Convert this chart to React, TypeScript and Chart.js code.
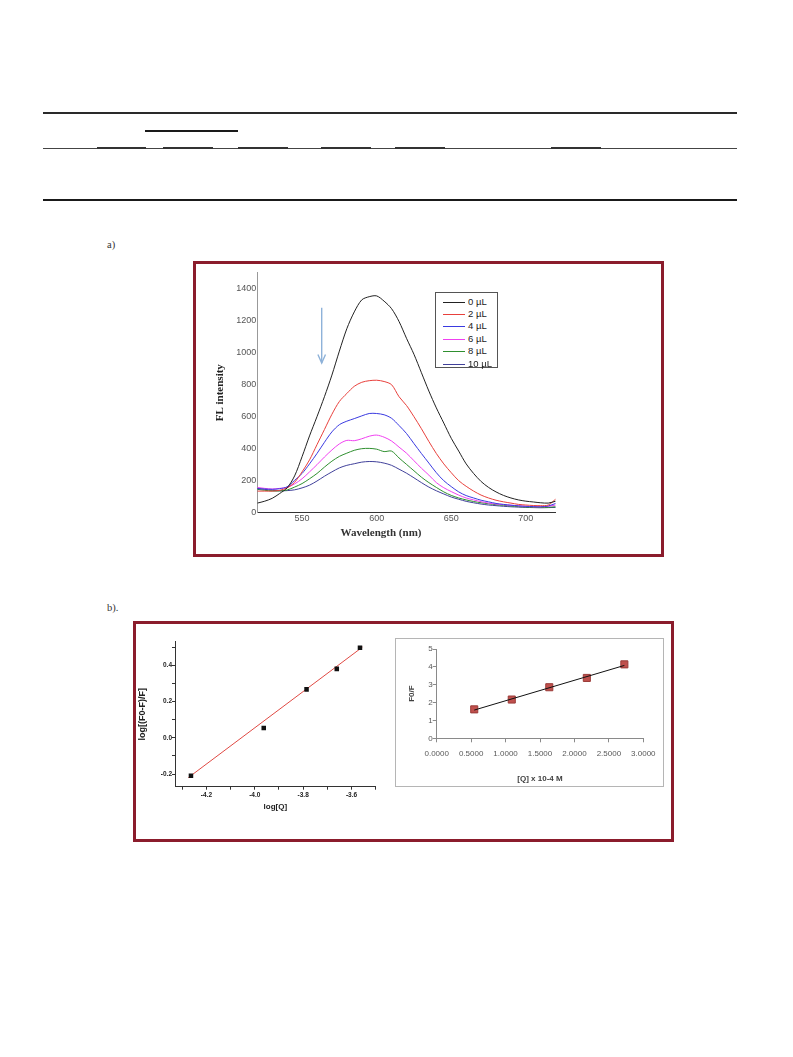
import React, { useEffect, useRef } from "react";
import { Chart, registerables } from "chart.js";
Chart.register(...registerables);

// ---------- (a) fluorescence spectra ----------
const wavelengths = [
  520, 525, 530, 535, 540, 545, 550, 555, 560, 565, 570, 575, 580, 585, 590, 595, 600,
  605, 610, 615, 620, 625, 630, 635, 640, 645, 650, 655, 660, 665, 670, 675, 680, 685,
  690, 695, 700, 705, 710, 715, 720,
];
const fl0uL = [
  60, 72, 90, 120, 155, 230, 350, 480, 600, 725, 860, 1010, 1150, 1255, 1330, 1350, 1355,
  1322, 1275, 1195, 1090, 990, 875, 760, 655, 560, 465, 385, 305, 245, 195, 158, 130, 108,
  92, 80, 72, 67, 62, 60, 72,
];
const fl2uL = [
  135, 135, 135, 140, 155, 190, 255, 330, 425, 520, 615, 695, 745, 790, 815, 825, 828,
  820, 800, 725, 670, 600, 525, 445, 370, 305, 250, 200, 165, 135, 110, 92, 78, 68,
  60, 52, 48, 45, 44, 48, 85,
];
const fl4uL = [
  150, 148, 146, 150, 162, 202, 245, 305, 370, 440, 505, 550, 572, 588, 605, 620, 620,
  612, 590, 545, 495, 432, 370, 310, 250, 200, 163, 130, 107, 92, 78, 68, 58, 52,
  47, 43, 40, 38, 37, 42, 58,
];
const fl6uL = [
  158, 152, 148, 152, 158, 180, 212, 255, 300, 348, 392, 430, 452, 450, 462, 478, 485,
  472, 448, 410, 372, 325, 278, 235, 188, 156, 132, 110, 92, 80, 69, 60, 54, 50,
  46, 43, 40, 37, 37, 40, 48,
];
const fl8uL = [
  146, 140, 136, 136, 142, 160, 182, 212, 245, 285, 322, 352, 372, 390, 400, 402, 397,
  382, 385, 342, 302, 262, 222, 188, 158, 130, 108, 92, 80, 70, 62, 56, 50, 46,
  42, 38, 36, 34, 33, 34, 37,
];
const fl10uL = [
  152, 146, 140, 137, 138, 143, 155, 172, 198, 228, 255, 280, 296, 306, 316, 320, 318,
  310, 296, 272, 247, 218, 188, 160, 137, 117, 98, 84, 71, 62, 54, 48, 44, 40,
  37, 35, 33, 32, 31, 32, 33,
];
const spectraLabels = ["0 µL", "2 µL", "4 µL", "6 µL", "8 µL", "10 µL"];
const spectraColors = ["#222222", "#e8403c", "#3a3ae0", "#f040f0", "#2f8f2f", "#40409a"];
const spectraXTicks = [550, 600, 650, 700];
const spectraYTicks = [0, 200, 400, 600, 800, 1000, 1200, 1400];

// ---------- (b) left: double-log plot ----------
const logQ = [-4.264, -3.963, -3.786, -3.661, -3.565];
const logRatio = [-0.21, 0.054, 0.267, 0.38, 0.497];
const logFitX = [-4.275, -3.555];
const logFitY = [-0.22, 0.5];
const logXTicks = [-4.3, -4.2, -4.1, -4.0, -3.9, -3.8, -3.7, -3.6, -3.5];
const logXLabels = ["", "-4.2", "", "-4.0", "", "-3.8", "", "-3.6", ""];
const logYTicks = [-0.2, -0.1, 0.0, 0.1, 0.2, 0.3, 0.4, 0.5];
const logYLabels = ["-0.2", "", "0.0", "", "0.2", "", "0.4", ""];

// ---------- (b) right: Stern-Volmer plot ----------
const concQ = [0.545, 1.09, 1.635, 2.18, 2.725];
const f0OverF = [1.62, 2.17, 2.86, 3.38, 4.14];
const svFitX = [0.545, 2.725];
const svFitY = [1.58, 4.08];
const svXTicks = [0, 0.5, 1.0, 1.5, 2.0, 2.5, 3.0];
const svYTicks = [0, 1, 2, 3, 4, 5];

const spectraSeries = [fl0uL, fl2uL, fl4uL, fl6uL, fl8uL, fl10uL];

function useChart(ref: any, make: () => any) {
  useEffect(() => {
    const chart = new Chart(ref.current, make());
    return () => chart.destroy();
  }, []);
}

const setTicks = (vals: number[]) => (s: any) => {
  s.ticks = vals.map((v) => ({ value: v }));
};
const setWidth = (w: number) => (s: any) => {
  s.width = w;
};
const setHeight = (h: number) => (s: any) => {
  s.height = h;
};
const labelFrom = (vals: number[], labels: string[]) => (value: number) => {
  const i = vals.findIndex((v) => Math.abs(v - value) < 1e-6);
  return i >= 0 ? labels[i] : "";
};

function SpectraChart() {
  const ref = useRef<HTMLCanvasElement>(null);
  useChart(ref, () => ({
    type: "line",
    data: {
      datasets: spectraSeries.map((s, i) => ({
        label: spectraLabels[i],
        data: wavelengths.map((w, j) => ({ x: w, y: s[j] })),
        borderColor: spectraColors[i],
        borderWidth: 1,
        pointRadius: 0,
        tension: 0.3,
        fill: false,
      })),
    },
    options: {
      responsive: false,
      animation: false,
      layout: { padding: { left: 0, top: 8.7, right: 106.3, bottom: 0 } },
      plugins: { legend: { display: false }, tooltip: { enabled: false } },
      scales: {
        x: {
          type: "linear",
          min: 520,
          max: 720,
          afterBuildTicks: setTicks(spectraXTicks),
          afterFit: setHeight(42.3),
          grid: { display: false, drawTicks: false },
          border: { display: true, color: "#333", width: 1 },
          ticks: {
            callback: (v: number) => String(v),
            font: { family: "Liberation Sans", size: 9 },
            color: "#555",
            padding: 0,
            autoSkip: false,
            maxRotation: 0,
          },
        },
        y: {
          type: "linear",
          min: 0,
          max: 1500,
          afterBuildTicks: setTicks(spectraYTicks),
          afterFit: setWidth(61.3),
          grid: { display: false, drawTicks: false },
          border: { display: true, color: "#999", width: 1 },
          ticks: {
            callback: (v: number) => String(v),
            font: { family: "Liberation Sans", size: 9 },
            color: "#555",
            padding: 1,
            autoSkip: false,
          },
          title: {
            display: true,
            text: "FL intensity",
            color: "#222",
            font: { family: "Liberation Serif", size: 11, weight: "bold" },
            padding: { top: 17.4, bottom: 0 },
          },
        },
      },
    },
  }));
  return (
    <canvas
      ref={ref}
      width={466}
      height={291}
      style={{ position: "absolute", left: 196, top: 264, width: 466, height: 291 }}
    />
  );
}

function LogChart() {
  const ref = useRef<HTMLCanvasElement>(null);
  useChart(ref, () => ({
    type: "scatter",
    data: {
      datasets: [
        {
          label: "data",
          data: logQ.map((x, i) => ({ x, y: logRatio[i] })),
          pointStyle: "rect",
          pointRadius: 3.2,
          backgroundColor: "#111",
          borderColor: "#111",
          borderWidth: 0,
        },
        {
          type: "line",
          label: "fit",
          data: logFitX.map((x, i) => ({ x, y: logFitY[i] })),
          borderColor: "#e04a44",
          borderWidth: 1,
          pointRadius: 0,
          fill: false,
        },
      ],
    },
    options: {
      responsive: false,
      animation: false,
      layout: { padding: { left: 0, top: 16.7, right: 11.3, bottom: 0 } },
      plugins: { legend: { display: false }, tooltip: { enabled: false } },
      scales: {
        x: {
          type: "linear",
          min: -4.33,
          max: -3.5,
          afterBuildTicks: setTicks(logXTicks),
          afterFit: setHeight(28.3),
          grid: { display: true, drawOnChartArea: false, drawTicks: true, tickLength: 3, color: "#333" },
          border: { display: true, color: "#333", width: 1 },
          ticks: {
            callback: labelFrom(logXTicks, logXLabels),
            font: { family: "Liberation Sans", size: 6.5, weight: "bold" },
            color: "#222",
            padding: 2,
            autoSkip: false,
            maxRotation: 0,
          },
          title: {
            display: true,
            text: "log[Q]",
            color: "#222",
            font: { family: "Liberation Sans", size: 8, weight: "bold" },
            padding: { top: 0, bottom: 3.5 },
          },
        },
        y: {
          type: "linear",
          min: -0.27,
          max: 0.53,
          afterBuildTicks: setTicks(logYTicks),
          afterFit: setWidth(38),
          grid: { display: true, drawOnChartArea: false, drawTicks: true, tickLength: 3, color: "#333" },
          border: { display: true, color: "#333", width: 1 },
          ticks: {
            callback: labelFrom(logYTicks, logYLabels),
            font: { family: "Liberation Sans", size: 6.5, weight: "bold" },
            color: "#222",
            padding: 0,
            autoSkip: false,
          },
          title: {
            display: true,
            text: "log[(F0-F)/F]",
            color: "#222",
            font: { family: "Liberation Sans", size: 9, weight: "bold" },
            padding: { top: 0.6, bottom: 0 },
          },
        },
      },
    },
  }));
  return (
    <canvas
      ref={ref}
      width={250}
      height={190}
      style={{ position: "absolute", left: 137, top: 625, width: 250, height: 190 }}
    />
  );
}

function SternVolmerChart() {
  const ref = useRef<HTMLCanvasElement>(null);
  useChart(ref, () => ({
    type: "scatter",
    data: {
      datasets: [
        {
          type: "line",
          label: "fit",
          data: svFitX.map((x, i) => ({ x, y: svFitY[i] })),
          borderColor: "#111",
          borderWidth: 1,
          pointRadius: 0,
          fill: false,
        },
        {
          label: "F0/F",
          data: concQ.map((x, i) => ({ x, y: f0OverF[i] })),
          pointStyle: "rect",
          pointRadius: 5,
          backgroundColor: "#c0504d",
          borderColor: "#9a3b38",
          borderWidth: 1,
        },
      ],
    },
    options: {
      responsive: false,
      animation: false,
      layout: { padding: { left: 0, top: 10, right: 19.7, bottom: 0 } },
      plugins: { legend: { display: false }, tooltip: { enabled: false } },
      scales: {
        x: {
          type: "linear",
          min: 0,
          max: 3,
          afterBuildTicks: setTicks(svXTicks),
          afterFit: setHeight(47.7),
          grid: { display: true, drawOnChartArea: false, drawTicks: true, tickLength: 4, color: "#8a8a8a" },
          border: { display: true, color: "#8a8a8a", width: 1 },
          ticks: {
            callback: (v: number) => Number(v).toFixed(4),
            font: { family: "Liberation Sans", size: 8 },
            color: "#595959",
            padding: 7,
            autoSkip: false,
            maxRotation: 0,
          },
          title: {
            display: true,
            text: "[Q] x 10-4 M",
            color: "#404040",
            font: { family: "Liberation Sans", size: 8, weight: "bold" },
            padding: { top: 0, bottom: 2.9 },
          },
        },
        y: {
          type: "linear",
          min: 0,
          max: 5,
          afterBuildTicks: setTicks(svYTicks),
          afterFit: setWidth(40.7),
          grid: { display: true, drawOnChartArea: false, drawTicks: true, tickLength: 4, color: "#8a8a8a" },
          border: { display: true, color: "#8a8a8a", width: 1 },
          ticks: {
            font: { family: "Liberation Sans", size: 8 },
            color: "#595959",
            padding: 0,
            autoSkip: false,
          },
          title: {
            display: true,
            text: "F0/F",
            color: "#404040",
            font: { family: "Liberation Sans", size: 8, weight: "bold" },
            padding: { top: 10.9, bottom: 0 },
          },
        },
      },
    },
  }));
  return (
    <canvas
      ref={ref}
      width={267}
      height={147}
      style={{ position: "absolute", left: 396, top: 639, width: 267, height: 147 }}
    />
  );
}

const abs = (s: any) => ({ position: "absolute" as const, ...s });

export default function App() {
  const segs = [
    [97, 146],
    [163, 213],
    [238, 288],
    [321, 371],
    [395, 445],
    [551, 601],
  ];
  return (
    <div>
      {/* table rules */}
      <div style={abs({ left: 43, top: 112.3, width: 694, height: 2, background: "#2a2a2a" })} />
      <div style={abs({ left: 145, top: 130, width: 93, height: 2, background: "#1a1a1a" })} />
      <div style={abs({ left: 43, top: 147.5, width: 694, height: 1.5, background: "#444" })} />
      {segs.map(([a, b], i) => (
        <div key={i} style={abs({ left: a, top: 147.3, width: b - a, height: 2, background: "#333" })} />
      ))}
      <div style={abs({ left: 43, top: 198.7, width: 694, height: 2, background: "#1a1a1a" })} />

      {/* a) */}
      <div
        style={abs({
          left: 107,
          top: 240.2,
          fontFamily: "Liberation Serif",
          fontSize: 10.5,
          lineHeight: "10.5px",
          color: "#333",
        })}
      >
        a)
      </div>
      <div
        style={abs({
          left: 193,
          top: 261,
          width: 471,
          height: 296,
          boxSizing: "border-box",
          border: "3px solid #8b1c2c",
        })}
      />
      <SpectraChart />
      <div
        style={abs({
          left: 281,
          width: 200,
          top: 525,
          textAlign: "center",
          fontFamily: "Liberation Serif",
          fontWeight: "bold",
          fontSize: 11,
          lineHeight: "15px",
          color: "#333",
        })}
      >
        Wavelength (nm)
      </div>
      {/* legend */}
      <div
        style={abs({
          left: 435,
          top: 291.7,
          width: 62.7,
          height: 76.6,
          boxSizing: "border-box",
          border: "1px solid #555",
          background: "#fff",
        })}
      >
        {spectraLabels.map((lab, i) => (
          <div
            key={lab}
            style={abs({ left: 7, top: 3 + i * 12.4, height: 12, width: 56 })}
          >
            <div
              style={abs({ left: 0, top: 6, width: 22, height: 1, background: spectraColors[i] })}
            />
            <div
              style={abs({
                left: 25,
                top: 0,
                fontFamily: "Liberation Sans",
                fontSize: 9.5,
                lineHeight: "12px",
                color: "#222",
                whiteSpace: "nowrap",
              })}
            >
              {lab}
            </div>
          </div>
        ))}
      </div>
      {/* arrow */}
      <svg style={abs({ left: 310, top: 300, width: 24, height: 70 })} width={24} height={70}>
        <line x1={11.7} y1={7.7} x2={11.7} y2={63} stroke="#8eb2d9" strokeWidth={1.4} />
        <polyline
          points="7.9,54.5 11.7,63 15.5,54.5"
          fill="none"
          stroke="#8eb2d9"
          strokeWidth={1.4}
        />
      </svg>

      {/* b). */}
      <div
        style={abs({
          left: 107,
          top: 602.7,
          fontFamily: "Liberation Serif",
          fontSize: 10.5,
          lineHeight: "10.5px",
          color: "#333",
        })}
      >
        b).
      </div>
      <div
        style={abs({
          left: 133,
          top: 621,
          width: 541,
          height: 221,
          boxSizing: "border-box",
          border: "3px solid #8b1c2c",
        })}
      />
      <LogChart />
      <div
        style={abs({
          left: 395,
          top: 638,
          width: 269,
          height: 149,
          boxSizing: "border-box",
          border: "1px solid #b5b5b5",
        })}
      />
      <SternVolmerChart />
    </div>
  );
}
